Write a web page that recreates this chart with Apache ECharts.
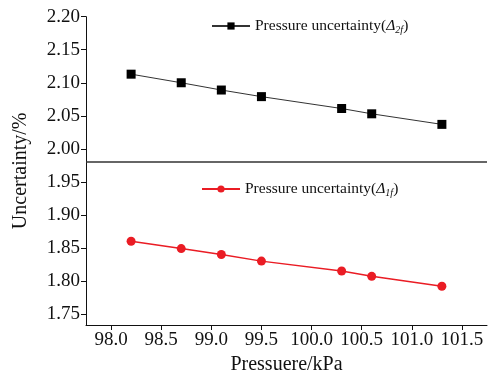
<!DOCTYPE html>
<html><head><meta charset="utf-8">
<script src="https://cdn.jsdelivr.net/npm/echarts@6/dist/echarts.min.js"></script>
<style>html,body{margin:0;padding:0;background:#fff}#c{width:489px;height:380px}</style>
</head><body><div id="c"></div>
<script>
var pressure = [98.2, 98.7, 99.1, 99.5, 100.3, 100.6, 101.3];
var delta2f = [2.113, 2.100, 2.089, 2.079, 2.061, 2.053, 2.037];
var delta1f = [1.860, 1.849, 1.840, 1.830, 1.815, 1.807, 1.792];
var xTicks = [98.0, 98.5, 99.0, 99.5, 100.0, 100.5, 101.0, 101.5];
var yTicks = [1.75, 1.80, 1.85, 1.90, 1.95, 2.00, 2.05, 2.10, 2.15, 2.20];
var dividerValue = 1.98;
var name2f = 'Pressure uncertainty(Δ2f)';
var name1f = 'Pressure uncertainty(Δ1f)';

function pairs(xs, ys){ return xs.map(function(x,i){return [x, ys[i]];}); }
var font = '"Liberation Serif","Times New Roman",serif';
var rich = {
  n: {fontFamily: font, fontSize: 15.5, color: '#111'},
  d: {fontFamily: font, fontSize: 15.5, fontStyle: 'italic', color: '#111'},
  s: {fontFamily: font, fontSize: 10, fontStyle: 'italic', color: '#111', padding: [9, 0, 0, 0]}
};
function fmt(name){
  var sub = name === name2f ? '2f' : '1f';
  return '{n|Pressure uncertainty(}{d|Δ}{s|' + sub + '}{n|)}';
}
var chart = echarts.init(document.getElementById('c'));
chart.setOption({
  animation: false,
  backgroundColor: '#fff',
  grid: {left: 86, right: 2, top: 16.7, bottom: 55},
  legend: [
    {data: [name2f], left: 206, top: 13, itemWidth: 38, itemHeight: 9, itemGap: 5, formatter: fmt, textStyle: {rich: rich}},
    {data: [name1f], left: 196, top: 176, itemWidth: 38, itemHeight: 9, itemGap: 5, formatter: fmt, textStyle: {rich: rich}}
  ],
  xAxis: {
    type: 'value', min: 97.75, max: 101.75,
    name: 'Pressuere/kPa', nameLocation: 'middle', nameGap: 30,
    nameTextStyle: {fontFamily: font, fontSize: 20, color: '#111'},
    axisLine: {lineStyle: {color: '#111', width: 1}},
    axisTick: {show: true, inside: false, length: 5, customValues: xTicks, lineStyle: {color: '#111'}},
    axisLabel: {customValues: xTicks, fontFamily: font, fontSize: 19, color: '#111', margin: 6,
      formatter: function(v){return v.toFixed(1);}},
    splitLine: {show: false}
  },
  yAxis: {
    type: 'value', min: 1.7333, max: 2.20,
    name: 'Uncertainty/%', nameLocation: 'middle', nameGap: 55,
    nameTextStyle: {fontFamily: font, fontSize: 20, color: '#111'},
    axisLine: {show: true, lineStyle: {color: '#111', width: 1}},
    axisTick: {show: true, inside: false, length: 5, customValues: yTicks, lineStyle: {color: '#111'}},
    axisLabel: {customValues: yTicks, fontFamily: font, fontSize: 19, color: '#111', margin: 6,
      formatter: function(v){return v.toFixed(2);}},
    splitLine: {show: false}
  },
  series: [
    {
      name: name2f, type: 'line', data: pairs(pressure, delta2f),
      symbol: 'rect', symbolSize: 9,
      itemStyle: {color: '#000'},
      lineStyle: {color: '#333', width: 1},
      markLine: {
        silent: true, symbol: 'none', label: {show: false},
        lineStyle: {color: '#333', width: 1.5, type: 'solid'},
        data: [{yAxis: dividerValue}]
      }
    },
    {
      name: name1f, type: 'line', data: pairs(pressure, delta1f),
      symbol: 'circle', symbolSize: 9,
      itemStyle: {color: '#ea1c24'},
      lineStyle: {color: '#ea1c24', width: 1.5}
    }
  ]
});
</script></body></html>
